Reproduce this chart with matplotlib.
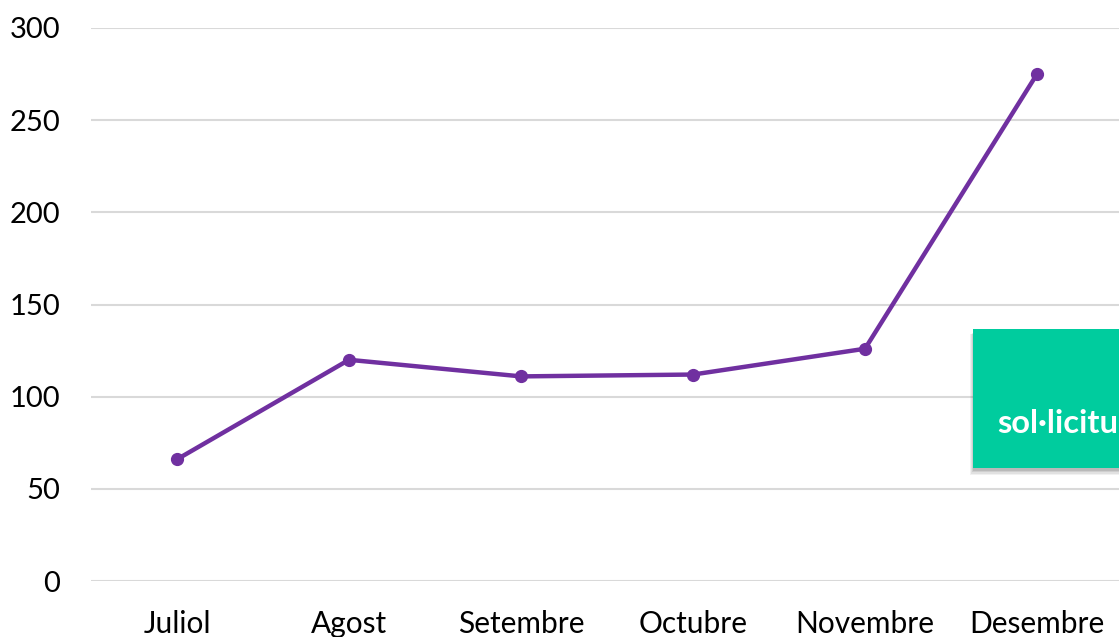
import matplotlib
matplotlib.use("Agg")
import matplotlib.pyplot as plt
from matplotlib.patches import Rectangle

months = ["Juliol", "Agost", "Setembre", "Octubre", "Novembre", "Desembre"]
values = [66, 120, 111, 112, 126, 275]
yticks = [0, 50, 100, 150, 200, 250, 300]
box_label = "sol·licituds"

plt.rcParams['font.family'] = ['Lato', 'DejaVu Sans']

W, H = 1119, 637
fig = plt.figure(figsize=(W / 100, H / 100), dpi=100)
ax = fig.add_axes([91 / W, (H - 581) / H, 1032 / W, 553 / H])

x = list(range(len(months)))
ax.plot(x, values, color="#7030A0", lw=3.2, marker="o", ms=8.5, zorder=3,
        solid_capstyle="round")
ax.set_xlim(-0.5, len(months) - 0.5)
ax.set_ylim(0, 300)
ax.set_yticks(yticks)
ax.set_xticks(x)
ax.set_xticklabels(months)
ax.yaxis.grid(True, color="#D9D9D9", lw=1.5)
ax.set_axisbelow(True)
for s in ax.spines.values():
    s.set_visible(False)
ax.tick_params(axis="both", length=0, colors="black")
ax.tick_params(axis="y", pad=22, labelsize=21)
ax.tick_params(axis="x", pad=21, labelsize=21.5)

# green callout box with shadow
bx, by, bw, bh = 973, 468, 200, 139
for i, a in enumerate([0.08, 0.10, 0.13, 0.17]):
    off = 7 - i * 1.5
    fig.patches.append(Rectangle(((bx - 3 + i) / W, (H - by - off) / H), bw / W,
                                 (bh + 2 - i) / H,
                                 transform=fig.transFigure, color="#555555", alpha=a,
                                 lw=0, zorder=5))
fig.patches.append(Rectangle((bx / W, (H - by) / H), bw / W, bh / H,
                             transform=fig.transFigure, color="#00CC9E", lw=0, zorder=6))
fig.text(997 / W, (H - 433) / H, box_label, color="white", fontsize=23.5,
         fontweight="bold", ha="left", va="baseline", zorder=7)

fig.savefig("out.png", dpi=100)
